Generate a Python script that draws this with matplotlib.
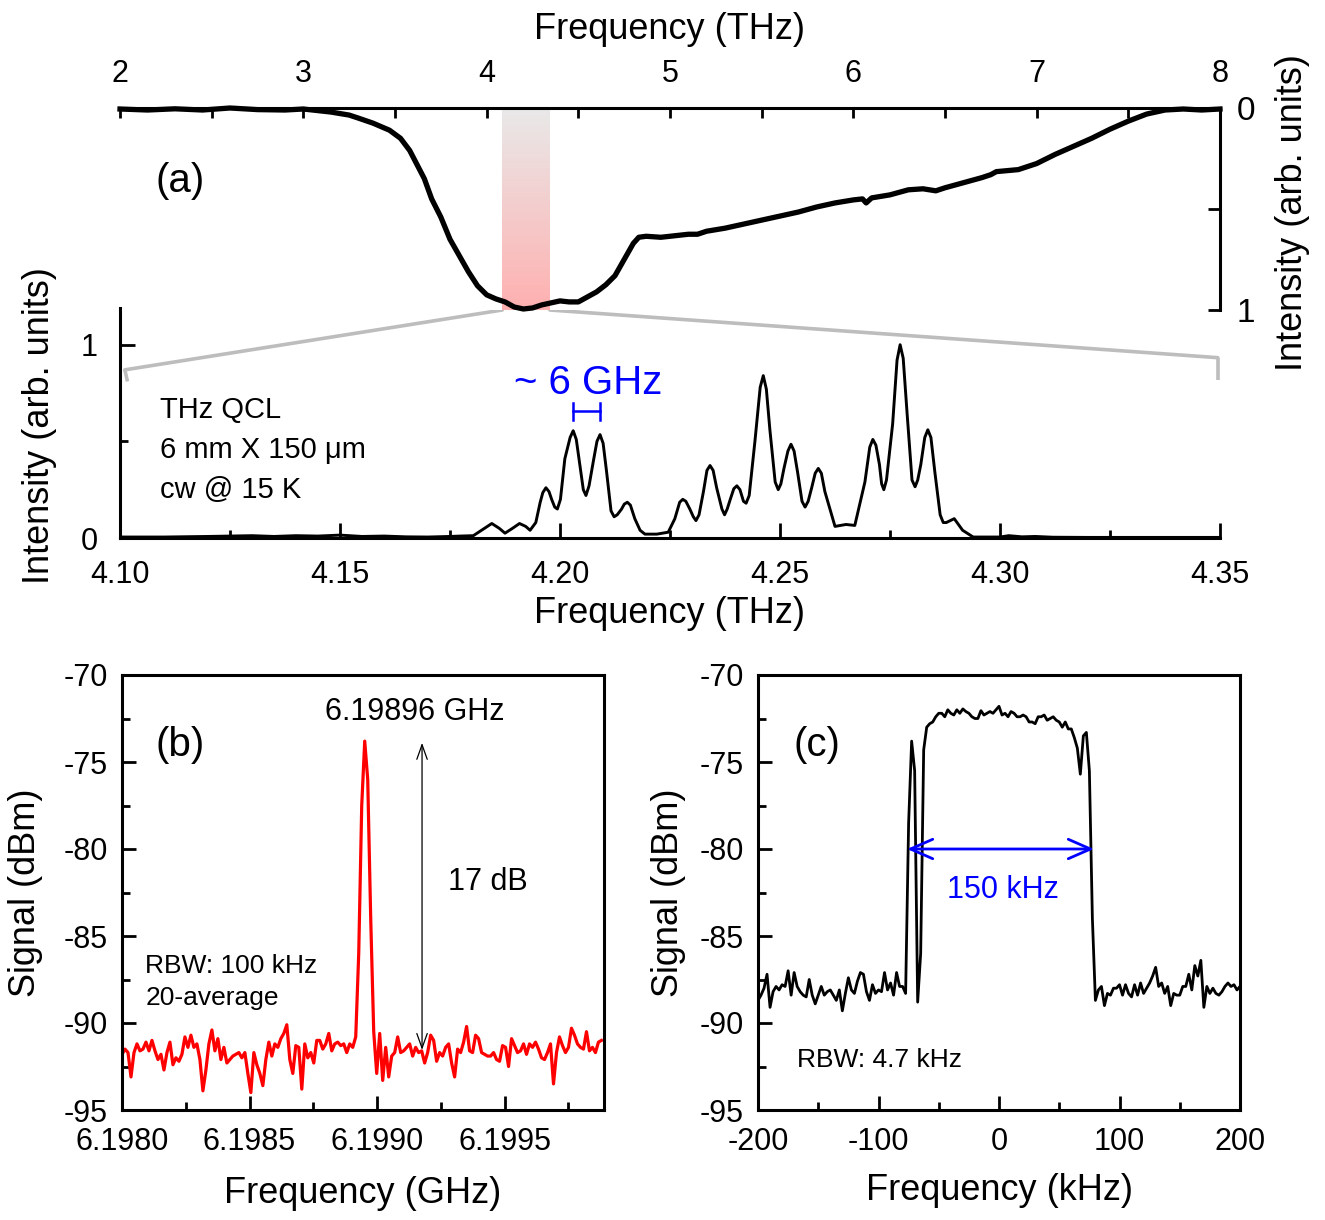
import numpy as np
import matplotlib
matplotlib.use("Agg")
import matplotlib.pyplot as plt
from matplotlib.patches import ConnectionPatch
from matplotlib.colors import LinearSegmentedColormap
from matplotlib.ticker import MultipleLocator, FixedLocator, FormatStrFormatter

plt.rcParams['font.family'] = ['Liberation Sans', 'DejaVu Sans']
plt.rcParams['axes.unicode_minus'] = False

# (a) top: broad THz emission spectrum (inverted axis)
wide_freq = [2.0, 2.15, 2.3, 2.45, 2.6, 2.75, 2.9, 3.0, 3.15, 3.25, 3.3, 3.38, 3.47, 3.53,
             3.58, 3.62, 3.66, 3.70, 3.75, 3.80, 3.85, 3.90, 3.95, 4.0, 4.05, 4.1, 4.15,
             4.2, 4.25, 4.3, 4.35, 4.4, 4.45, 4.5, 4.55, 4.6, 4.65, 4.7, 4.75, 4.8, 4.83,
             4.87, 4.95, 5.05, 5.1, 5.15, 5.2, 5.3, 5.4, 5.5, 5.6, 5.7, 5.8, 5.9, 6.0,
             6.05, 6.07, 6.1, 6.2, 6.3, 6.38, 6.45, 6.5, 6.6, 6.7, 6.75, 6.78, 6.9, 7.0,
             7.1, 7.2, 7.3, 7.4, 7.5, 7.6, 7.7, 7.8, 7.9, 8.0]
wide_int = [0.005, 0.01, 0.004, 0.01, 0.0, 0.008, 0.01, 0.005, 0.02, 0.035, 0.05, 0.075,
            0.11, 0.15, 0.21, 0.28, 0.35, 0.45, 0.54, 0.65, 0.73, 0.81, 0.88, 0.925, 0.945,
            0.96, 0.985, 0.995, 0.99, 0.975, 0.965, 0.955, 0.96, 0.96, 0.935, 0.91, 0.875,
            0.83, 0.75, 0.67, 0.64, 0.635, 0.64, 0.63, 0.625, 0.625, 0.61, 0.595, 0.575,
            0.555, 0.535, 0.515, 0.49, 0.47, 0.455, 0.45, 0.47, 0.445, 0.43, 0.405, 0.40,
            0.41, 0.395, 0.37, 0.345, 0.33, 0.315, 0.305, 0.275, 0.23, 0.19, 0.15, 0.105,
            0.065, 0.03, 0.01, 0.005, 0.01, 0.005]
band_lo, band_hi = 4.085, 4.345

# (a) bottom: zoomed comb spectrum (peaks, valleys, flanks)
zoom_freq = [4.100, 4.110, 4.120, 4.130, 4.135, 4.140, 4.145, 4.150, 4.155, 4.160, 4.165,
             4.170, 4.175, 4.1773, 4.1803, 4.1825, 4.1845, 4.1862, 4.1875, 4.1892, 4.1908,
             4.1922, 4.1932, 4.1945, 4.1955, 4.1968, 4.1981, 4.1994, 4.2011, 4.2030, 4.2045,
             4.2059, 4.2076, 4.2091, 4.2106, 4.2123, 4.2140, 4.2153, 4.2170, 4.2182, 4.2193,
             4.2220, 4.2246, 4.2261, 4.2279, 4.2295, 4.2309, 4.2326, 4.2341, 4.2356, 4.2374,
             4.2387, 4.2402, 4.2423, 4.2443, 4.2462, 4.2477, 4.2496, 4.2509, 4.2525, 4.2540,
             4.2557, 4.2572, 4.2587, 4.2602, 4.2625, 4.2650, 4.2670, 4.2693, 4.2711, 4.2726,
             4.2736, 4.2756, 4.2773, 4.2789, 4.2807, 4.2820, 4.2836, 4.2852, 4.2871, 4.2896,
             4.2915, 4.2939, 4.300, 4.302, 4.305, 4.308, 4.312, 4.320, 4.350]
zoom_int = [0.005, 0.005, 0.008, 0.012, 0.008, 0.012, 0.01, 0.015, 0.008, 0.01, 0.006,
            0.005, 0.008, 0.01, 0.012, 0.045, 0.075, 0.05, 0.025, 0.05, 0.075,
            0.06, 0.04, 0.08, 0.185, 0.26, 0.2, 0.15, 0.41, 0.555, 0.38,
            0.22, 0.40, 0.535, 0.34, 0.11, 0.15, 0.185, 0.10, 0.04, 0.02,
            0.02, 0.03, 0.10, 0.20, 0.15, 0.09, 0.24, 0.375, 0.26, 0.12,
            0.20, 0.27, 0.18, 0.50, 0.84, 0.56, 0.25, 0.36, 0.485, 0.34,
            0.16, 0.26, 0.36, 0.24, 0.06, 0.07, 0.065, 0.29, 0.51, 0.38,
            0.25, 0.59, 1.0, 0.64, 0.265, 0.38, 0.56, 0.34, 0.08, 0.10,
            0.04, 0.005, 0.005, 0.012, 0.006, 0.008, 0.004, 0.003, 0.003]
# extra points read near peak tops and valley bottoms
round_freq = [4.1961, 4.1975, 4.1988, 4.2001, 4.2023, 4.2037, 4.2053, 4.2066, 4.2084,
              4.2098, 4.2116, 4.2130, 4.2146, 4.2160, 4.2272, 4.2286, 4.2303, 4.2316,
              4.2334, 4.2348, 4.2368, 4.2380, 4.2395, 4.2409, 4.2417, 4.2430, 4.2455,
              4.2469, 4.2489, 4.2502, 4.2518, 4.2532, 4.2550, 4.2564, 4.2580, 4.2594,
              4.2704, 4.2718, 4.2731, 4.2742, 4.2766, 4.2780, 4.2800, 4.2813, 4.2829,
              4.2843, 4.2864, 4.2878]
round_int = [0.235, 0.24, 0.16, 0.20, 0.52, 0.51, 0.25, 0.27, 0.50, 0.49,
             0.14, 0.12, 0.175, 0.17, 0.185, 0.19, 0.11, 0.12,
             0.35, 0.35, 0.15, 0.15, 0.255, 0.25, 0.19, 0.22, 0.78,
             0.77, 0.29, 0.28, 0.45, 0.45, 0.19, 0.19, 0.335, 0.335,
             0.47, 0.48, 0.28, 0.30, 0.92, 0.93, 0.30, 0.30, 0.52,
             0.52, 0.12, 0.08]
mode_a, mode_b = 4.2030, 4.2091

# (b) beat note, 161 sweep points from 6.198 GHz
b_start, b_stop = 6.198, 6.19988
b_signal = [-91.8, -91.5, -91.7, -93.1, -91.7, -91.2, -91.6, -91.5, -91.1, -91.6,
            -91.0, -91.6, -92.1, -91.8, -92.7, -91.7, -91.1, -92.4, -92.0, -92.2,
            -91.8, -90.8, -91.4, -90.7, -91.4, -91.2, -92.1, -93.9, -92.7, -91.2,
            -90.4, -91.6, -90.9, -92.1, -91.4, -92.3, -92.1, -91.9, -91.8, -91.7,
            -92.0, -91.7, -92.9, -94.0, -91.7, -92.4, -92.9, -93.6, -92.1, -91.1,
            -91.9, -91.2, -91.4, -90.9, -90.6, -90.1, -92.1, -92.9, -91.3, -91.4,
            -93.8, -91.2, -92.0, -91.7, -92.3, -91.0, -91.0, -91.5, -91.2, -90.6,
            -91.6, -91.2, -91.1, -91.3, -91.2, -91.7, -91.2, -91.4, -90.8, -86.0,
            -77.5, -73.8, -76.0, -84.0, -90.5, -92.9, -90.6, -93.3, -91.4, -93.1,
            -91.9, -91.7, -90.8, -91.7, -91.6, -91.4, -91.2, -91.9, -91.4, -91.7,
            -91.6, -92.3, -91.7, -90.7, -91.0, -92.2, -91.7, -91.9, -91.4, -91.2,
            -92.3, -93.1, -91.5, -91.7, -91.1, -90.2, -91.6, -91.7, -90.7, -90.9,
            -91.7, -91.8, -91.9, -91.9, -91.7, -92.1, -92.2, -91.3, -91.4, -92.5,
            -90.9, -91.3, -91.7, -91.6, -91.2, -91.8, -91.2, -91.4, -91.1, -91.5,
            -92.0, -92.1, -91.7, -91.2, -93.5, -91.7, -90.8, -91.3, -91.7, -91.4,
            -90.3, -90.7, -91.2, -91.4, -91.5, -90.5, -91.6, -91.4, -91.7, -91.1,
            -91.0]
b_arrow_f, b_arrow_lo, b_arrow_hi = 6.1991765, -91.55, -73.9

# (c) locked beat, 2.5 kHz steps from -200 to 200 kHz
c_start, c_stop = -200, 200
c_signal = [-88.7, -88.4, -88.0, -87.2, -89.1, -88.2, -87.9, -88.1, -87.8, -87.9,
            -87.0, -88.4, -87.1, -87.9, -88.2, -88.4, -88.5, -87.5, -88.4, -88.9,
            -88.4, -87.9, -88.4, -88.2, -88.1, -88.4, -88.7, -88.1, -89.3, -88.3,
            -87.4, -88.1, -88.3, -87.6, -87.1, -87.2, -88.2, -88.7, -87.8, -88.3,
            -88.1, -88.2, -87.1, -88.1, -87.7, -88.4, -87.1, -87.9, -87.9, -88.3,
            -78.5, -73.8, -75.5, -88.8, -86.0, -74.3,
            -73.0, -72.8, -72.7, -72.4, -72.2, -72.2, -72.4, -72.0, -72.2, -72.3,
            -72.0, -72.2, -71.95, -72.1, -72.2, -72.4, -72.5, -72.5, -72.05, -72.3,
            -72.2, -72.1, -72.2, -72.0, -71.8, -72.3, -72.2, -72.4, -72.1, -72.2,
            -72.4, -72.4, -72.3, -72.4, -72.7, -72.7, -72.8, -72.4, -72.4, -72.3,
            -72.6, -72.5, -72.4, -72.6, -72.7, -73.0, -72.7, -73.1, -73.1, -73.6,
            -74.2, -75.7, -73.5, -73.3, -75.5, -84.0,
            -88.7, -88.1, -87.9, -89.0, -88.3, -88.4, -88.0, -88.0, -87.8, -88.4,
            -87.8, -88.3, -88.5, -87.8, -88.4, -87.7, -88.3, -88.0, -87.7, -87.3,
            -86.8, -87.9, -87.7, -88.3, -87.9, -89.0, -88.3, -88.4, -88.4, -87.9,
            -87.9, -87.2, -88.1, -86.7, -87.3, -86.4, -89.1, -87.9, -88.3, -88.0,
            -88.3, -88.4, -88.2, -87.9, -87.7, -87.9, -87.8, -88.1, -87.9]
c_arrow_lo, c_arrow_hi, c_arrow_y = -76.3, 78.8, -80.0

b_freq = np.linspace(b_start, b_stop, len(b_signal))
c_freq = np.linspace(c_start, c_stop, len(c_signal))

zf = np.array(zoom_freq + round_freq)
zi = np.array(zoom_int + round_int)
order = np.argsort(zf)
zf, zi = zf[order], zi[order]

W, H = 1325, 1220
fig = plt.figure(figsize=(W / 100, H / 100), dpi=100)

def box(l, t, r, b):
    return [l / W, 1 - b / H, (r - l) / W, (b - t) / H]

ax_top = fig.add_axes(box(120, 108, 1220, 310))
ax_bot = fig.add_axes(box(120, 308, 1220, 538))
ax_b = fig.add_axes(box(122, 675, 604, 1110))
ax_c = fig.add_axes(box(758, 675, 1240, 1110))

tick_fs = 22
lab_fs = 26
spine_w = 2.2

# ---- (a) top
band_cmap = LinearSegmentedColormap.from_list('band', ['#e9e9e9', '#ffb0b0'])
ax_top.imshow(np.linspace(0, 1, 256).reshape(-1, 1), cmap=band_cmap, aspect='auto',
              extent=[band_lo, band_hi, 1.0, 0.0], zorder=1)
ax_top.plot(wide_freq, wide_int, color='black', lw=3.8, zorder=2, clip_on=False)
ax_top.set_xlim(2, 8)
ax_top.set_ylim(1.0, 0.0)
for s in ['left', 'bottom']:
    ax_top.spines[s].set_visible(False)
for s in ['top', 'right']:
    ax_top.spines[s].set_linewidth(spine_w)
ax_top.xaxis.tick_top()
ax_top.yaxis.tick_right()
ax_top.xaxis.set_major_locator(MultipleLocator(1))
ax_top.xaxis.set_minor_locator(MultipleLocator(0.5))
ax_top.yaxis.set_major_locator(FixedLocator([0, 1]))
ax_top.yaxis.set_minor_locator(FixedLocator([0.5]))
ax_top.tick_params(axis='x', which='both', direction='in', length=7, width=2,
                   pad=14, labelsize=tick_fs)
ax_top.tick_params(axis='y', which='both', direction='in', length=9, width=2,
                   pad=12, labelsize=tick_fs + 2)
ax_top.xaxis.set_label_position('top')
ax_top.set_xlabel('Frequency (THz)', fontsize=lab_fs)
ax_top.xaxis.set_label_coords(0.5, 1.34)
ax_top.yaxis.set_label_position('right')
ax_top.set_ylabel('Intensity (arb. units)', fontsize=lab_fs)
ax_top.yaxis.set_label_coords(1.05, 0.48)
ax_top.text(2.33, 0.36, '(a)', fontsize=29, ha='center', va='center')

# ---- (a) bottom
ax_bot.plot(zf, zi, color='black', lw=2.1)
ax_bot.set_xlim(4.10, 4.35)
ax_bot.set_ylim(0, 1.19)
ax_bot.patch.set_visible(False)
for s in ['top', 'right']:
    ax_bot.spines[s].set_visible(False)
for s in ['left', 'bottom']:
    ax_bot.spines[s].set_linewidth(spine_w)
ax_bot.xaxis.set_major_locator(MultipleLocator(0.05))
ax_bot.xaxis.set_minor_locator(MultipleLocator(0.025))
ax_bot.xaxis.set_major_formatter(FormatStrFormatter('%.2f'))
ax_bot.yaxis.set_major_locator(FixedLocator([0, 1]))
ax_bot.yaxis.set_minor_locator(FixedLocator([0.5]))
ax_bot.tick_params(which='major', direction='in', length=11, width=2, pad=16,
                   labelsize=tick_fs)
ax_bot.tick_params(which='minor', direction='in', length=6, width=2)
ax_bot.set_xlabel('Frequency (THz)', fontsize=lab_fs)
ax_bot.xaxis.set_label_coords(0.5, -0.25)
ax_bot.set_ylabel('Intensity (arb. units)', fontsize=lab_fs)
ax_bot.yaxis.set_label_coords(-0.057, 0.49)
for i, t in enumerate(['THz QCL', '6 mm X 150 \u03bcm', 'cw @ 15 K']):
    ax_bot.text(0.036, 0.557 - i * 0.174, t, transform=ax_bot.transAxes, fontsize=21,
                ha='left', va='center')
cap_y = 0.655
ax_bot.plot([mode_a, mode_b], [cap_y, cap_y], color='blue', lw=1.8)
for f in (mode_a, mode_b):
    ax_bot.plot([f, f], [cap_y - 0.045, cap_y + 0.045], color='blue', lw=1.8)
ax_bot.text(0.4255, 0.674, '~ 6 GHz', transform=ax_bot.transAxes, fontsize=29,
            color='blue', ha='center', va='center')

# zoom connectors
gray = '#bdbdbd'
for xa, xb, yb, yb2 in [(band_lo, 4.1011, 0.87, 0.81), (band_hi, 4.3495, 0.933, 0.82)]:
    con = ConnectionPatch(xyA=(xa, 1.0), coordsA=ax_top.transData,
                          xyB=(xb, yb), coordsB=ax_bot.transData,
                          color=gray, lw=2.6, zorder=0)
    fig.add_artist(con)
    ax_bot.plot([xb, xb + (0.0006 if xb < 4.2 else 0)], [yb, yb2], color=gray, lw=2.6,
                clip_on=False, solid_capstyle='butt')

# ---- (b) and (c) common style
def style_rf(ax, xmaj, xmin):
    for s in ax.spines.values():
        s.set_linewidth(spine_w)
    ax.set_ylim(-95, -70)
    ax.yaxis.set_major_locator(MultipleLocator(5))
    ax.yaxis.set_minor_locator(MultipleLocator(2.5))
    ax.xaxis.set_major_locator(MultipleLocator(xmaj))
    ax.xaxis.set_minor_locator(MultipleLocator(xmin))
    ax.tick_params(which='major', direction='in', length=10, width=2, pad=12,
                   labelsize=tick_fs)
    ax.tick_params(which='minor', direction='in', length=6, width=2)
    ax.set_ylabel('Signal (dBm)', fontsize=lab_fs)

ax_b.plot(b_freq, b_signal, color='red', lw=2.3)
ax_b.set_xlim(b_start, 6.19989)
style_rf(ax_b, 0.0005, 0.00025)
ax_b.tick_params(axis='y', which='major', pad=10)
ax_b.xaxis.set_major_formatter(FormatStrFormatter('%.4f'))
ax_b.set_xlabel('Frequency (GHz)', fontsize=lab_fs)
ax_b.xaxis.set_label_coords(0.5, -0.152)
ax_b.yaxis.set_label_coords(-0.163, 0.5)
ax_b.annotate('', xy=(b_arrow_f, b_arrow_hi), xytext=(b_arrow_f, b_arrow_lo),
              arrowprops=dict(arrowstyle='<->,head_length=0.7,head_width=0.25',
                              color='black', lw=0.9, mutation_scale=15,
                              shrinkA=0, shrinkB=0))
ax_b.text(0.12, 0.839, '(b)', transform=ax_b.transAxes, fontsize=29, ha='center', va='center')
ax_b.text(0.608, 0.915, '6.19896 GHz', transform=ax_b.transAxes, fontsize=22,
          ha='center', va='center')
ax_b.text(0.676, 0.524, '17 dB', transform=ax_b.transAxes, fontsize=22, ha='left', va='center')
ax_b.text(0.048, 0.331, 'RBW: 100 kHz', transform=ax_b.transAxes, fontsize=19,
          ha='left', va='center')
ax_b.text(0.048, 0.257, '20-average', transform=ax_b.transAxes, fontsize=19,
          ha='left', va='center')

ax_c.plot(c_freq, c_signal, color='black', lw=2.0)
ax_c.set_xlim(c_start, c_stop)
style_rf(ax_c, 100, 50)
ax_c.tick_params(axis='y', which='major', pad=10)
ax_c.set_xlabel('Frequency (kHz)', fontsize=lab_fs)
ax_c.xaxis.set_label_coords(0.5, -0.145)
ax_c.yaxis.set_label_coords(-0.149, 0.5)
ax_c.annotate('', xy=(c_arrow_hi, c_arrow_y), xytext=(c_arrow_lo, c_arrow_y),
              arrowprops=dict(arrowstyle='<->,head_length=0.8,head_width=0.35',
                              color='blue', lw=2.0, mutation_scale=20,
                              shrinkA=0, shrinkB=0))
ax_c.text(0.122, 0.839, '(c)', transform=ax_c.transAxes, fontsize=29, ha='center', va='center')
ax_c.text(0.508, 0.506, '150 kHz', transform=ax_c.transAxes, fontsize=22, color='blue',
          ha='center', va='center')
ax_c.text(0.081, 0.115, 'RBW: 4.7 kHz', transform=ax_c.transAxes, fontsize=19,
          ha='left', va='center')

fig.savefig('out.png', dpi=100)
